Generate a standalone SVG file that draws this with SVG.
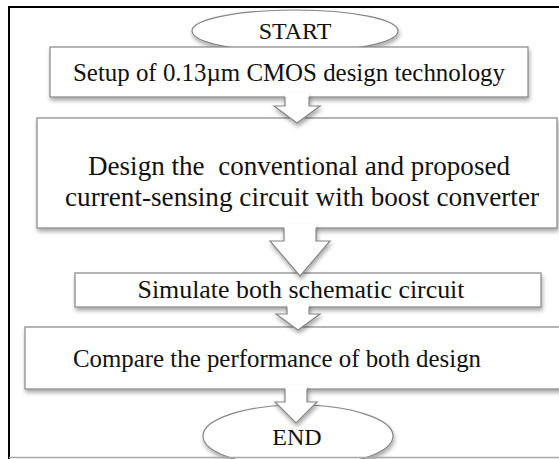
<svg xmlns="http://www.w3.org/2000/svg" width="559" height="459" viewBox="0 0 559 459">
<defs>
<filter id="sh" x="-10%" y="-20%" width="120%" height="160%">
<feDropShadow dx="1" dy="3" stdDeviation="2.2" flood-color="#000" flood-opacity="0.35"/>
</filter>
<style>
.box{fill:#fff;stroke:#858585;stroke-width:1.2;filter:url(#sh)}
.txt{font-family:"Liberation Serif","Times New Roman",serif;font-size:25px;fill:#111;text-anchor:middle}
.big{font-size:27px}
.term{font-size:24px}
.afill{fill:#fff;stroke:none}
.aline{fill:none;stroke:#858585;stroke-width:1.2;stroke-linejoin:miter}
</style>
</defs>
<rect x="0" y="0" width="559" height="459" fill="#fff"/>
<g id="frame">
<line x1="9" y1="7" x2="559" y2="7" stroke="#000" stroke-width="2"/>
<line x1="9" y1="6" x2="9" y2="459" stroke="#000" stroke-width="2"/>
</g>
<g id="start">
<ellipse class="box" cx="295" cy="31" rx="103" ry="21"/>
<text class="txt term" x="295" y="39">START</text>
</g>
<g id="step1">
<rect class="box" x="50" y="47" width="478" height="50"/>
<text class="txt" x="289" y="81" textLength="432" lengthAdjust="spacingAndGlyphs">Setup of 0.13µm CMOS design technology</text>
</g>
<g id="step2">
<rect class="box" x="37" y="118" width="520" height="110"/>
<text class="txt big" x="299" y="175" style="white-space:pre" textLength="422" lengthAdjust="spacingAndGlyphs">Design the  conventional and proposed</text>
<text class="txt big" x="302" y="206" textLength="474" lengthAdjust="spacingAndGlyphs">current-sensing circuit with boost converter</text>
</g>
<g id="step3">
<rect class="box" x="75" y="273" width="466" height="34"/>
<text class="txt" x="301" y="298" textLength="327" lengthAdjust="spacingAndGlyphs">Simulate both schematic circuit</text>
</g>
<g id="step4">
<rect class="box" x="25" y="327" width="542" height="62"/>
<text class="txt" x="277" y="367" textLength="408" lengthAdjust="spacingAndGlyphs">Compare the performance of both design</text>
</g>
<g id="end">
<ellipse class="box" cx="298" cy="436" rx="95" ry="31"/>
<text class="txt term" x="297" y="445">END</text>
</g>
<g id="connectors">
<g filter="url(#sh)">
<polygon class="afill" points="285,93 285,106 274,106 297,123 320,106 309,106 309,93"/>
<polyline class="aline" points="285,97 285,106 274,106 297,123 320,106 309,106 309,97"/>
</g>
<g filter="url(#sh)">
<polygon class="afill" points="284,224 284,241 270,241 300,276 330,241 316,241 316,224"/>
<polyline class="aline" points="284,228 284,241 270,241 300,276 330,241 316,241 316,228"/>
</g>
<g filter="url(#sh)">
<polygon class="afill" points="287,303 287,314 276,314 298,330 320,314 309,314 309,303"/>
<polyline class="aline" points="287,307 287,314 276,314 298,330 320,314 309,314 309,307"/>
</g>
<g filter="url(#sh)">
<polygon class="afill" points="285,385 285,402 275,402 296,423 317,402 307,402 307,385"/>
<polyline class="aline" points="285,389 285,402 275,402 296,423 317,402 307,402 307,389"/>
</g>
</g>
<line x1="9" y1="457.5" x2="559" y2="457.5" stroke="#a8a8a8" stroke-width="1.5"/>
</svg>
